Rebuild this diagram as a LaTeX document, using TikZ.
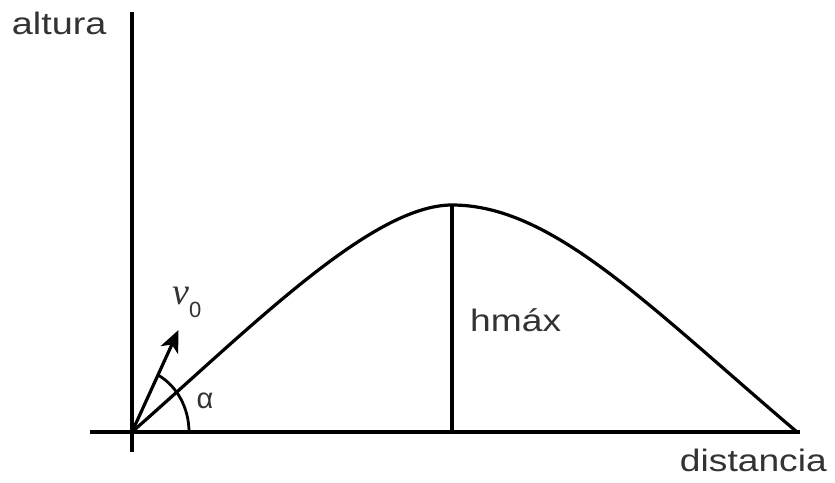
\documentclass[tikz,border=0pt]{standalone}
\usepackage{fontspec}
\usepackage{graphicx}
\setmainfont{Liberation Sans}
\newfontfamily\vfont{Liberation Serif}
\usetikzlibrary{arrows.meta}
\begin{document}
\begin{tikzpicture}[x=1pt,y=1pt,
  ln/.style={line width=3.2pt,black},
  lbl/.style={font=\fontsize{31}{31}\selectfont, text=black!80, inner sep=0pt}]
\useasboundingbox (0,0) rectangle (835,482);
\coordinate (O) at (132,50);
\coordinate (ytop) at (132,470);
\coordinate (ybot) at (132,30);
\coordinate (xl) at (90,50);
\coordinate (xr) at (800,50);
\coordinate (peak) at (452,277);
\coordinate (foot) at (452,50);
\coordinate (land) at (797,50);
\coordinate (tip) at (178.5,152);
% axes
\draw[ln] (ybot) -- (ytop);
\draw[ln] (xl) -- (xr);
% trajectory
\draw[ln, line join=round] (O) .. controls (252,155.6) and (372,277) .. (peak)
  .. controls (552,277) and (647,177.5) .. (land);
% max height
\draw[ln] (foot) -- (peak);
% initial velocity
\draw[ln, -{Stealth[length=22pt,width=19pt,inset=6pt]}] (O) -- (tip);
% angle arc
\draw[line width=2.8pt] ([xshift=57pt]O) arc[start angle=0, end angle=63, x radius=57, y radius=64];
% labels
\node[lbl, anchor=base west] (alt) at (11.7,447) {\scalebox{1.22}[1]{altura}};
\node[lbl, anchor=base east] (dist) at (827,10.3) {\scalebox{1.2}[1]{distancia}};
\node[lbl, anchor=base west] (hmax) at (470,150.3) {\scalebox{1.2}[1]{hmáx}};
\node[lbl, font=\fontsize{29}{29}\selectfont] (alpha) at (205,81.5) {α};
\node[lbl, anchor=base west] (v0) at (172,177) {{\vfont\itshape\fontsize{38}{38}\selectfont v}\kern0pt\raisebox{-13pt}{\fontsize{22}{22}\selectfont 0}};
\end{tikzpicture}
\end{document}
